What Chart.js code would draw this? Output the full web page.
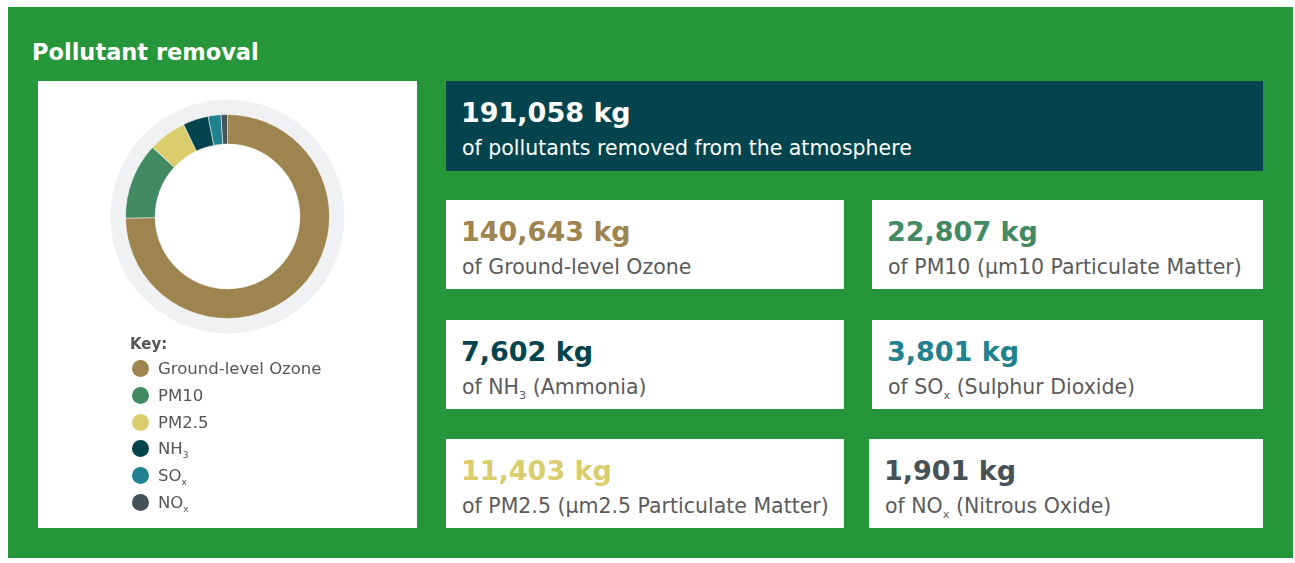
<!DOCTYPE html>
<html>
<head>
<meta charset="utf-8">
<script src="https://cdn.jsdelivr.net/npm/chart.js@4"></script>
<style>
  body { margin: 0; background: #fff; font-family: "DejaVu Sans", sans-serif; }
  #panel { position: absolute; left: 8px; top: 7px; width: 1285px; height: 551px; background: #26963a; }
  #title { position: absolute; left: 24px; top: 34px; font-size: 22.5px; line-height: 22px; font-weight: bold; color: #fff; }
  #chartCard { position: absolute; left: 30px; top: 74px; width: 379px; height: 447px; background: #fff; }
  #chartBox { position: absolute; left: 0; top: 0; width: 379px; height: 271px; }
  #key { position: absolute; left: 92px; top: 256px; color: #555; }
  #key .head { font-size: 15px; font-weight: bold; line-height: 15px; margin-bottom: 9px; }
  #key .item { position: relative; height: 26.8px; font-size: 16.5px; line-height: 16px; padding-left: 28px; }
  #key .dot { position: absolute; left: 2px; top: -1px; width: 17px; height: 17px; border-radius: 50%; }
  .card { position: absolute; background: #fff; height: 89px; }
  .card .num { position: absolute; left: 15px; top: 18px; font-size: 27px; line-height: 27px; font-weight: bold; white-space: nowrap; }
  .card .txt { position: absolute; left: 16px; top: 57px; font-size: 20.5px; line-height: 21px; color: #5b5b5b; white-space: nowrap; }
  .card.total { background: #03444e; height: 90px; }
  .card.total .num, .card.total .txt { color: #fff; }
  sub { font-size: 0.55em; line-height: 0; vertical-align: -0.4em; }
</style>
</head>
<body>
<div id="panel">
  <div id="title">Pollutant removal</div>
  <div id="chartCard">
    <div id="chartBox"><canvas id="donut"></canvas></div>
    <div id="key"></div>
  </div>
</div>
<script>
const totalKg = 191058;
const pollutants = ["Ground-level Ozone", "PM10", "PM2.5", "NH3", "SOx", "NOx"];
const removedKg = [140643, 22807, 11403, 7602, 3801, 1901];
const colours = ["#9e844e", "#428a62", "#d9cd6e", "#03444e", "#21818f", "#455257"];
const descriptions = [
  "of Ground-level Ozone",
  "of PM10 (\u00b5m10 Particulate Matter)",
  "of PM2.5 (\u00b5m2.5 Particulate Matter)",
  "of NH3 (Ammonia)",
  "of SOx (Sulphur Dioxide)",
  "of NOx (Nitrous Oxide)"
];
// card slot for each pollutant (left/right column, rows)
const cardSlots = [
  { left: 446, top: 200, width: 398 },
  { left: 872, top: 200, width: 391 },
  { left: 446, top: 439, width: 398 },
  { left: 446, top: 320, width: 398 },
  { left: 872, top: 320, width: 391 },
  { left: 869, top: 439, width: 394 }
];

function chem(text) {
  return text.replace(/\b(NH)3\b/g, "$1<sub>3</sub>").replace(/\b(SO|NO)x\b/g, "$1<sub>x</sub>");
}

function kg(v) {
  return v.toLocaleString("en-US") + " kg";
}

function add_card(slot, value, text, colour, extraClass) {
  const card = document.createElement("div");
  card.className = "card" + (extraClass ? " " + extraClass : "");
  card.style.left = slot.left + "px";
  card.style.top = slot.top + "px";
  card.style.width = slot.width + "px";
  card.innerHTML = `<div class="num" style="color:${colour}">${kg(value)}</div><div class="txt">${chem(text)}</div>`;
  document.body.appendChild(card);
}

add_card({ left: 446, top: 81, width: 817 }, totalKg, "of pollutants removed from the atmosphere", "#fff", "total");
pollutants.forEach((p, i) => add_card(cardSlots[i], removedKg[i], descriptions[i], colours[i]));

const key = document.getElementById("key");
key.innerHTML = '<div class="head">Key:</div>' + pollutants.map((p, i) =>
  `<div class="item"><span class="dot" style="background:${colours[i]}"></span>${chem(p)}</div>`).join("");

// light grey halo round the doughnut
const halo = {
  id: "halo",
  beforeDatasetsDraw(chart) {
    const arc = chart.getDatasetMeta(0).data[0];
    if (!arc) return;
    const ctx = chart.ctx;
    ctx.save();
    ctx.beginPath();
    ctx.arc(arc.x, arc.y, arc.outerRadius + 15, 0, Math.PI * 2);
    ctx.arc(arc.x, arc.y, arc.outerRadius, 0, Math.PI * 2, true);
    ctx.fillStyle = "#f0f1f3";
    ctx.fill();
    ctx.restore();
  }
};

new Chart(document.getElementById("donut"), {
  type: "doughnut",
  data: {
    labels: pollutants,
    datasets: [{
      data: removedKg,
      backgroundColor: colours,
      borderColor: "#fff",
      borderWidth: 0.5
    }]
  },
  options: {
    responsive: true,
    maintainAspectRatio: false,
    animation: false,
    radius: 102,
    cutout: "71%",
    plugins: {
      legend: { display: false },
      tooltip: { enabled: false }
    }
  },
  plugins: [halo]
});
</script>
</body>
</html>
